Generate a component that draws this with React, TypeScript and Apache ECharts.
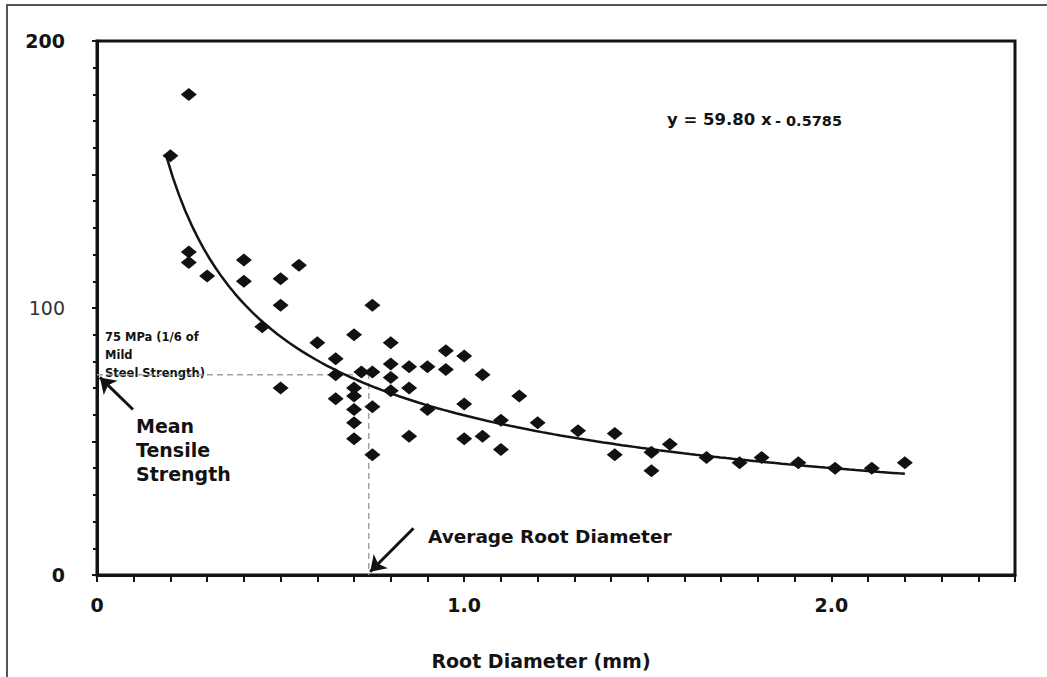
import React, { useEffect, useRef } from "react";
import * as echarts from "echarts";

// Root diameter (mm) and tensile strength (MPa)
const diameters = [
  0.2, 0.25, 0.25, 0.25, 0.3, 0.4, 0.4, 0.45, 0.5, 0.5, 0.5, 0.55, 0.6, 0.65, 0.65, 0.65,
  0.7, 0.7, 0.7, 0.7, 0.7, 0.7, 0.72, 0.75, 0.75, 0.75, 0.75, 0.8, 0.8, 0.8, 0.8, 0.85,
  0.85, 0.85, 0.9, 0.9, 0.95, 0.95, 1.0, 1.0, 1.0, 1.05, 1.05, 1.1, 1.1, 1.15, 1.2, 1.31,
  1.41, 1.41, 1.51, 1.51, 1.56, 1.66, 1.75, 1.81, 1.91, 2.01, 2.11, 2.2,
];
const strengths = [
  157, 180, 121, 117, 112, 118, 110, 93, 111, 101, 70, 116, 87, 81, 75, 66,
  90, 70, 67, 62, 57, 51, 76, 101, 76, 63, 45, 87, 79, 74, 69, 78,
  70, 52, 78, 62, 84, 77, 82, 64, 51, 75, 52, 58, 47, 67, 57, 54,
  53, 45, 46, 39, 49, 44, 42, 44, 42, 40, 40, 42,
];

// Power-law trend line printed on the chart: y = 59.80 x^-0.5785
const trendCoefA = 59.8;
const trendCoefB = -0.5785;
const trendRange = [0.19, 2.2];

// Reference values
const meanStrength = 75;
const avgDiameter = 0.74;

// Axis tick labels
const xTickValues = [0, 1, 2];
const xTickLabels = ["0", "1.0", "2.0"];
const yTickValues = [0, 100, 200];
const yTickLabels = ["0", "100", "200"];

// Annotation arrows (tail -> head, in data units)
const meanArrow = [[0.098, 62], [0.008, 74]];
const avgArrow = [[0.862, 17.5], [0.744, 1.2]];

const FONT = "DejaVu Sans";
const INK = "#131313";

export default function App() {
  const ref = useRef<HTMLDivElement>(null);

  useEffect(() => {
    if (!ref.current) return;
    const chart = echarts.init(ref.current, undefined, { renderer: "svg" });

    const points = diameters.map((d, i) => [d, strengths[i]]);
    const trend: number[][] = [];
    const steps = 120;
    for (let i = 0; i <= steps; i++) {
      const x = trendRange[0] + ((trendRange[1] - trendRange[0]) * i) / steps;
      trend.push([x, trendCoefA * Math.pow(x, trendCoefB)]);
    }

    const near = (v: number, arr: number[]) => arr.findIndex((t) => Math.abs(t - v) < 1e-6);

    chart.setOption({
      animation: false,
      backgroundColor: "#ffffff",
      grid: {
        left: 97,
        right: 32,
        top: 41,
        bottom: 102,
        show: true,
        borderColor: INK,
        borderWidth: 3,
        containLabel: false,
      },
      xAxis: {
        type: "value",
        min: 0,
        max: 2.5,
        interval: 0.5,
        axisLine: { show: true, lineStyle: { color: INK, width: 3 } },
        axisTick: { show: true, length: 7, lineStyle: { color: INK, width: 2 } },
        minorTick: { show: true, splitNumber: 5, length: 7, lineStyle: { color: INK, width: 2 } },
        splitLine: { show: false },
        minorSplitLine: { show: false },
        axisLabel: {
          margin: 20,
          fontFamily: FONT,
          fontSize: 19,
          fontWeight: "bold",
          color: INK,
          showMaxLabel: false,
          formatter: (v: number) => {
            const k = near(v, xTickValues);
            return k >= 0 ? xTickLabels[k] : "";
          },
        },
      },
      yAxis: {
        type: "value",
        min: 0,
        max: 200,
        interval: 50,
        axisLine: { show: true, lineStyle: { color: INK, width: 3 } },
        axisTick: { show: true, length: 5, lineStyle: { color: INK, width: 2 } },
        minorTick: { show: true, splitNumber: 5, length: 4, lineStyle: { color: INK, width: 2 } },
        splitLine: { show: false },
        minorSplitLine: { show: false },
        axisLabel: {
          margin: 32,
          formatter: (v: number) => {
            const k = near(v, yTickValues);
            if (k < 0) return "";
            return k === 1 ? `{n|${yTickLabels[k]}}` : `{b|${yTickLabels[k]}}`;
          },
          rich: {
            b: { fontFamily: FONT, fontSize: 19, fontWeight: "bold", color: INK },
            n: { fontFamily: FONT, fontSize: 19, fontWeight: "normal", color: "#333" },
          },
        },
      },
      series: [
        {
          type: "line",
          data: [[0, meanStrength], [avgDiameter, meanStrength], [avgDiameter, 0]],
          showSymbol: false,
          symbol: "none",
          lineStyle: { color: "#a0a0a0", width: 1.5, type: [6, 4] },
          silent: true,
          z: 1,
        },
        {
          type: "line",
          data: trend,
          showSymbol: false,
          symbol: "none",
          smooth: false,
          lineStyle: { color: INK, width: 2.5 },
          silent: true,
          z: 3,
        },
        {
          type: "scatter",
          data: points,
          symbol: "diamond",
          symbolSize: [16, 13],
          itemStyle: { color: "#111111", opacity: 1 },
          z: 4,
        },
        {
          type: "lines",
          coordinateSystem: "cartesian2d",
          data: [{ coords: meanArrow }, { coords: avgArrow }],
          symbol: ["none", "arrow"],
          symbolSize: 15,
          lineStyle: { color: INK, width: 3, opacity: 1 },
          z: 5,
        },
      ],
      graphic: [
        {
          type: "rect",
          shape: { x: 7, y: 5, width: 1100, height: 720 },
          style: { fill: "none", stroke: "#555", lineWidth: 2 },
          silent: true,
        },
        {
          type: "text",
          x: 667,
          y: 119,
          style: {
            text: "{a|y = 59.80 x} {c|- 0.5785}",
            verticalAlign: "middle",
            rich: {
              a: { fontFamily: FONT, fontSize: 16.5, fontWeight: "bold", fill: INK },
              c: { fontFamily: FONT, fontSize: 14.5, fontWeight: "bold", fill: INK, padding: [3, 0, 0, 0] },
            },
          },
        },
        {
          type: "text",
          x: 105,
          y: 328,
          style: {
            text: "75 MPa (1/6 of\nMild\nSteel Strength)",
            fontFamily: FONT,
            fontSize: 11.5,
            fontWeight: "bold",
            lineHeight: 18,
            fill: INK,
          },
        },
        {
          type: "text",
          x: 136,
          y: 414,
          style: {
            text: "Mean\nTensile\nStrength",
            fontFamily: FONT,
            fontSize: 19,
            fontWeight: "bold",
            lineHeight: 24,
            fill: INK,
          },
        },
        {
          type: "text",
          x: 428,
          y: 536,
          style: {
            text: "Average Root Diameter",
            fontFamily: FONT,
            fontSize: 18.5,
            fontWeight: "bold",
            verticalAlign: "middle",
            fill: INK,
          },
        },
        {
          type: "text",
          x: 541,
          y: 661,
          style: {
            text: "Root Diameter (mm)",
            fontFamily: FONT,
            fontSize: 19,
            fontWeight: "bold",
            align: "center",
            verticalAlign: "middle",
            fill: INK,
          },
        },
      ],
    });

    return () => chart.dispose();
  }, []);

  return (
    <div
      ref={ref}
      style={{ position: "absolute", left: 0, top: 0, width: 1047, height: 677, background: "#fff" }}
    />
  );
}
